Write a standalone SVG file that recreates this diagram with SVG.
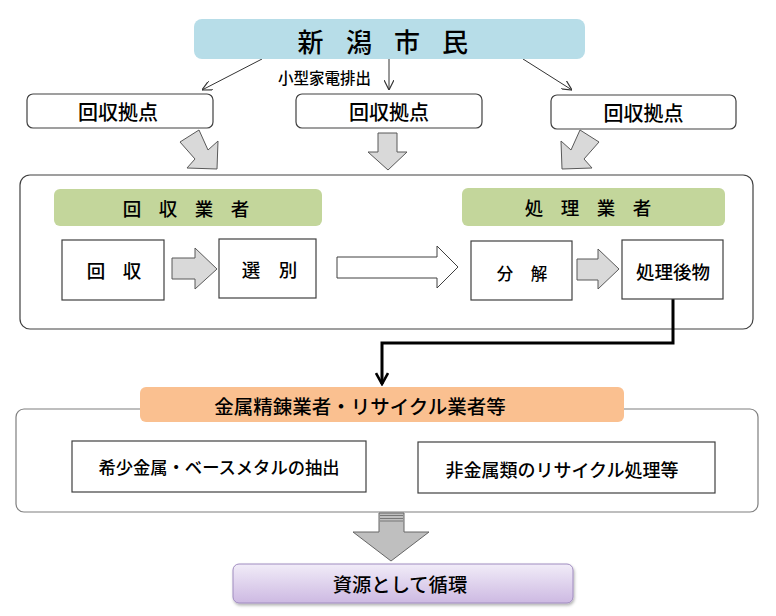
<svg xmlns="http://www.w3.org/2000/svg" width="776" height="616" viewBox="0 0 776 616">
<defs>
<style>
text{font-family:"Noto Sans CJK JP","Liberation Sans",sans-serif;font-weight:500;fill:#000;text-anchor:middle;dominant-baseline:central}
.box{fill:#fff;stroke:#404040;stroke-width:1.2}
.blk{fill:#d9d9d9;stroke:#595959;stroke-width:1}
.thin{fill:none;stroke:#333;stroke-width:1;marker-end:url(#open)}
</style>
<marker id="open" viewBox="0 0 10 10" refX="10" refY="5" markerWidth="10" markerHeight="10" markerUnits="userSpaceOnUse" orient="auto">
<path d="M0,0 L10,5 L0,10" fill="none" stroke="#333" stroke-width="1.2"/>
</marker>
<marker id="thick" viewBox="0 0 14 14" refX="12" refY="7" markerWidth="14" markerHeight="14" markerUnits="userSpaceOnUse" orient="auto">
<path d="M1,1 L12,7 L1,13" fill="none" stroke="#000" stroke-width="2.6"/>
</marker>
<linearGradient id="purp" x1="0" y1="0" x2="0" y2="1">
<stop offset="0" stop-color="#f1ecf8"/>
<stop offset="1" stop-color="#cdb9e2"/>
</linearGradient>
<filter id="sh" x="-5%" y="-20%" width="110%" height="150%">
<feDropShadow dx="1" dy="2" stdDeviation="1.5" flood-color="#000" flood-opacity="0.3"/>
</filter>
</defs>
<rect width="776" height="616" fill="#fff"/>

<g id="gyosha-container">
<rect x="20" y="175" width="733" height="154" rx="10" fill="#fff" stroke="#404040" stroke-width="1.2"/>
</g>
<g id="seiren-container">
<rect x="16" y="409" width="742" height="103" rx="8" fill="#fff" stroke="#7f7f7f" stroke-width="1.2"/>
</g>

<g id="connectors">
<path class="thin" d="M262,59 L202,90"/>
<path class="thin" d="M389,59 L389,90"/>
<path class="thin" d="M523,59 L572,90"/>
<polygon class="blk" points="180,142 199,130 208,150 218,141 217,169 187,168 195,159"/>
<polygon class="blk" points="378,133 397,133 397,152 407,152 388,170 368,152 378,152"/>
<polygon class="blk" points="599,142 580,130 571,150 561,141 562,169 592,168 584,159"/>
<polygon class="blk" points="172,258 195,258 195,248 217,269 195,289 195,279 172,279"/>
<polygon points="337,257 437,257 437,246 458,267 437,288 437,278 337,278" fill="#fff" stroke="#404040" stroke-width="1"/>
<polygon class="blk" points="577,259 598,259 598,249 619,269 598,289 598,280 577,280"/>
<path d="M673,299 V343 H382 V384" fill="none" stroke="#000" stroke-width="3" marker-end="url(#thick)"/>
<g id="down-arrow">
<polygon points="379,513 404,513 404,532 429,532 391,561 353,532 379,532" fill="#bfbfbf" stroke="#666" stroke-width="1"/>
<path d="M380,515.5 H403 M380,518.5 H403 M380,521 H403" stroke="#777" stroke-width="1"/>
</g>
</g>

<g id="shimin">
<rect x="194" y="19" width="391" height="40" rx="8" fill="#b7dde8"/>
<text x="310.5" y="40" font-size="26">新</text>
<text x="359" y="40" font-size="26">潟</text>
<text x="407" y="40" font-size="26">市</text>
<text x="455" y="40" font-size="26">民</text>
</g>
<g id="label-haishutsu">
<text x="324.5" y="77" font-size="15.5">小型家電排出</text>
</g>

<g id="kyoten1">
<rect class="box" x="27" y="94" width="186" height="34" rx="6"/>
<text x="118" y="111" font-size="20">回収拠点</text>
</g>
<g id="kyoten2">
<rect class="box" x="296" y="94" width="186" height="34" rx="6"/>
<text x="389" y="111" font-size="20">回収拠点</text>
</g>
<g id="kyoten3">
<rect class="box" x="551" y="95" width="185" height="34" rx="6"/>
<text x="643.5" y="112" font-size="20">回収拠点</text>
</g>

<g id="kaishu-gyosha">
<rect x="54" y="189" width="268" height="37" rx="6" fill="#c3d69b"/>
<text x="132" y="208" font-size="18.5">回</text>
<text x="168" y="208" font-size="18.5">収</text>
<text x="204" y="208" font-size="18.5">業</text>
<text x="240" y="208" font-size="18.5">者</text>
</g>
<g id="shori-gyosha">
<rect x="462" y="188" width="263" height="38" rx="6" fill="#c3d69b"/>
<text x="534" y="207" font-size="18.5">処</text>
<text x="570" y="207" font-size="18.5">理</text>
<text x="606" y="207" font-size="18.5">業</text>
<text x="642" y="207" font-size="18.5">者</text>
</g>
<g id="kaishu">
<rect class="box" x="62" y="240" width="102" height="60"/>
<text x="96" y="270" font-size="18.5">回</text>
<text x="132" y="270" font-size="18.5">収</text>
</g>
<g id="senbetsu">
<rect class="box" x="219" y="239" width="97" height="59"/>
<text x="251" y="269" font-size="18.5">選</text>
<text x="288" y="269" font-size="18.5">別</text>
</g>
<g id="bunkai">
<rect class="box" x="471" y="241" width="101" height="59"/>
<text x="505" y="273" font-size="16.5">分</text>
<text x="539" y="273" font-size="16.5">解</text>
</g>
<g id="shorigobutsu">
<rect class="box" x="622" y="240" width="101" height="59"/>
<text x="673" y="271" font-size="18.5">処理後物</text>
</g>

<g id="seiren-gyosha">
<rect x="140" y="387" width="484" height="35" rx="6" fill="#fac090"/>
<text x="360" y="405" font-size="19.5">金属精錬業者・リサイクル業者等</text>
</g>
<g id="kishou">
<rect class="box" x="72" y="441" width="294" height="51"/>
<text x="219" y="466" font-size="17.3">希少金属・ベースメタルの抽出</text>
</g>
<g id="hikinzoku">
<rect class="box" x="418" y="442" width="297" height="51"/>
<text x="562" y="469" font-size="18">非金属類のリサイクル処理等</text>
</g>

<g id="junkan">
<rect x="233" y="564" width="340" height="39" rx="6" fill="url(#purp)" stroke="#a08cc0" stroke-width="1" filter="url(#sh)"/>
<text x="400" y="584" font-size="19.3">資源として循環</text>
</g>
</svg>
